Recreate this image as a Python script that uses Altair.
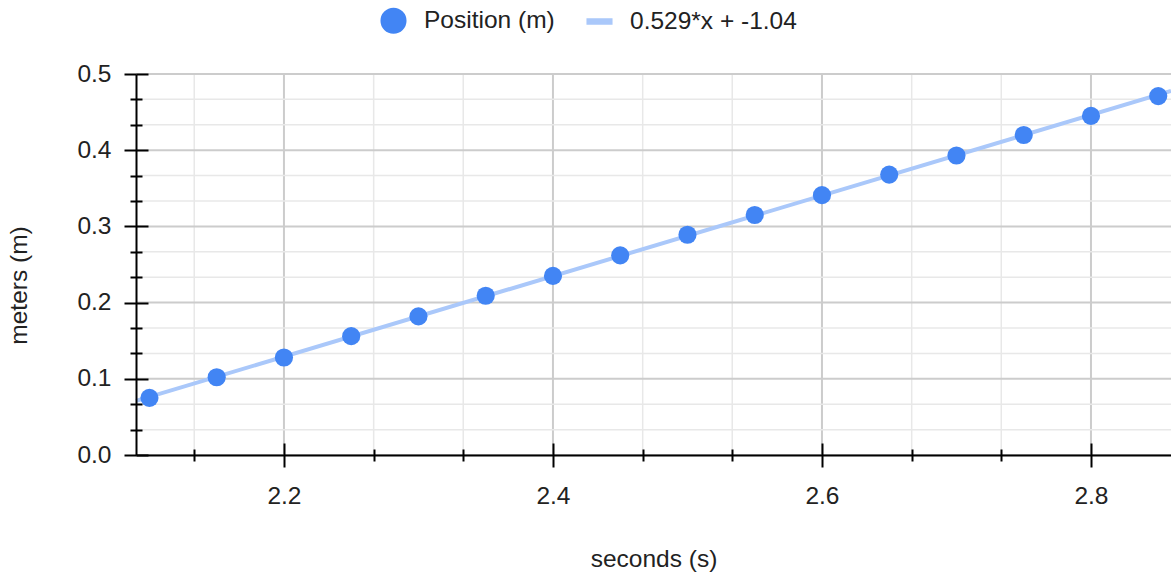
import altair as alt
import pandas as pd

# ---- data ----
T_S = [2.10, 2.15, 2.20, 2.25, 2.30, 2.35, 2.40, 2.45,
       2.50, 2.55, 2.60, 2.65, 2.70, 2.75, 2.80, 2.85]
POS_M = [0.075, 0.102, 0.128, 0.156, 0.182, 0.209, 0.235, 0.262,
         0.289, 0.315, 0.341, 0.368, 0.393, 0.420, 0.445, 0.471]
SERIES = ["Position (m)", "0.529*x + -1.04"]
X_MAJOR = [2.2, 2.4, 2.6, 2.8]
X_MINOR = [2.1333, 2.2667, 2.3333, 2.4667, 2.5333, 2.6667, 2.7333]
Y_MAJOR = [0.0, 0.1, 0.2, 0.3, 0.4, 0.5]
Y_MINOR = [0.0333, 0.0667, 0.1333, 0.1667, 0.2333, 0.2667,
           0.3333, 0.3667, 0.4333, 0.4667]
X_DOMAIN = [2.09, 2.8595]
Y_DOMAIN = [0.0, 0.5]
X_TITLE = "seconds (s)"
Y_TITLE = "meters (m)"

# ---- styles ----
FONT = "Liberation Sans"
FS = 24.5
TEXT = "#222222"
POINT_COLOR = "#4285f4"
TREND_COLOR = "#aac8fa"
MAJOR_GRID = "#cccccc"
MINOR_GRID = "#e8e8e8"
LINE_SYMBOL = "M-1,-0.25H1V0.25H-1Z"

pts = pd.DataFrame({"t": T_S, "pos": POS_M, "series": SERIES[0]})

xs = alt.Scale(domain=X_DOMAIN, nice=False, zero=False)
ys = alt.Scale(domain=Y_DOMAIN, nice=False, zero=False)

def tick_axis(values, size, offset, orient):
    return alt.Axis(values=values, tickSize=size, offset=offset, orient=orient,
                    labels=False, domain=False, grid=False, title=None,
                    tickColor="black", tickWidth=2, zindex=1)

vminor = alt.Chart(pd.DataFrame({"v": X_MINOR})).mark_rule(
    color=MINOR_GRID, strokeWidth=1.5).encode(
    x=alt.X("v:Q", scale=xs, axis=tick_axis(X_MINOR, 6, 0, "bottom")))

vmajor = alt.Chart(pd.DataFrame({"v": X_MAJOR})).mark_rule(
    color=MAJOR_GRID, strokeWidth=2).encode(
    x=alt.X("v:Q", scale=xs, axis=tick_axis(X_MAJOR, 12, -12, "bottom")))

hminor = alt.Chart(pd.DataFrame({"v": Y_MINOR})).mark_rule(
    color=MINOR_GRID, strokeWidth=1.5).encode(
    y=alt.Y("v:Q", scale=ys, axis=tick_axis(Y_MINOR, 6, 0, "left")))

hmajor = alt.Chart(pd.DataFrame({"v": Y_MAJOR})).mark_rule(
    color=MAJOR_GRID, strokeWidth=2).encode(
    y=alt.Y("v:Q", scale=ys, axis=tick_axis(Y_MAJOR, 12, -12, "left")))

trend = alt.Chart(pts).transform_regression(
    "t", "pos", extent=X_DOMAIN).mark_line(
    color=TREND_COLOR, strokeWidth=4).encode(
    x=alt.X("t:Q", scale=xs, axis=tick_axis(X_MINOR, 6, -6, "bottom")),
    y=alt.Y("pos:Q", scale=ys, axis=tick_axis(Y_MINOR, 6, -6, "left")))

legend = alt.Legend(title=None, orient="none", legendX=244, legendY=-67,
                    direction="horizontal", labelFontSize=FS, labelFont=FONT,
                    labelColor=TEXT, labelLimit=500, symbolSize=680,
                    labelOffset=17, columnPadding=31, symbolStrokeWidth=0,
                    padding=0)

points = alt.Chart(pts).mark_point(filled=True, size=330, opacity=1).encode(
    x=alt.X("t:Q", scale=xs, axis=alt.Axis(
        values=X_MAJOR, format=".1f", orient="bottom", tickSize=12, tickWidth=2,
        tickColor="black", domain=True, domainColor="black", domainWidth=2,
        grid=False, labelFont=FONT, labelFontSize=FS, labelColor=TEXT,
        labelPadding=17, title=X_TITLE, titleFont=FONT, titleFontSize=FS,
        titleFontWeight="normal", titleColor=TEXT, titleX=517.5,
        titleY=111, titleAlign="center", titleBaseline="alphabetic", zindex=1)),
    y=alt.Y("pos:Q", scale=ys, axis=alt.Axis(
        values=Y_MAJOR, format=".1f", orient="left", tickSize=12, tickWidth=2,
        tickColor="black", domain=True, domainColor="black", domainWidth=2,
        grid=False, labelFont=FONT, labelFontSize=FS, labelColor=TEXT,
        labelPadding=13, title=Y_TITLE, titleFont=FONT, titleFontSize=FS,
        titleFontWeight="normal", titleColor=TEXT, titleX=-110,
        titleY=211, titleAngle=270, titleAlign="center",
        titleBaseline="alphabetic", zindex=1)),
    color=alt.Color("series:N", scale=alt.Scale(domain=SERIES,
                    range=[POINT_COLOR, TREND_COLOR]), legend=legend),
    shape=alt.Shape("series:N", scale=alt.Scale(domain=SERIES,
                    range=["circle", LINE_SYMBOL]), legend=legend),
)

chart = alt.layer(vminor, vmajor, hminor, hmajor, trend, points).resolve_axis(
    x="independent", y="independent").properties(
    width=1035, height=381,
    autosize=alt.AutoSizeParams(type="none"),
    padding={"left": 136, "top": 74, "right": 0, "bottom": 121},
    background="white",
).configure_view(stroke=None)

chart.save("out.html", embed_options={"renderer": "svg", "actions": False})
